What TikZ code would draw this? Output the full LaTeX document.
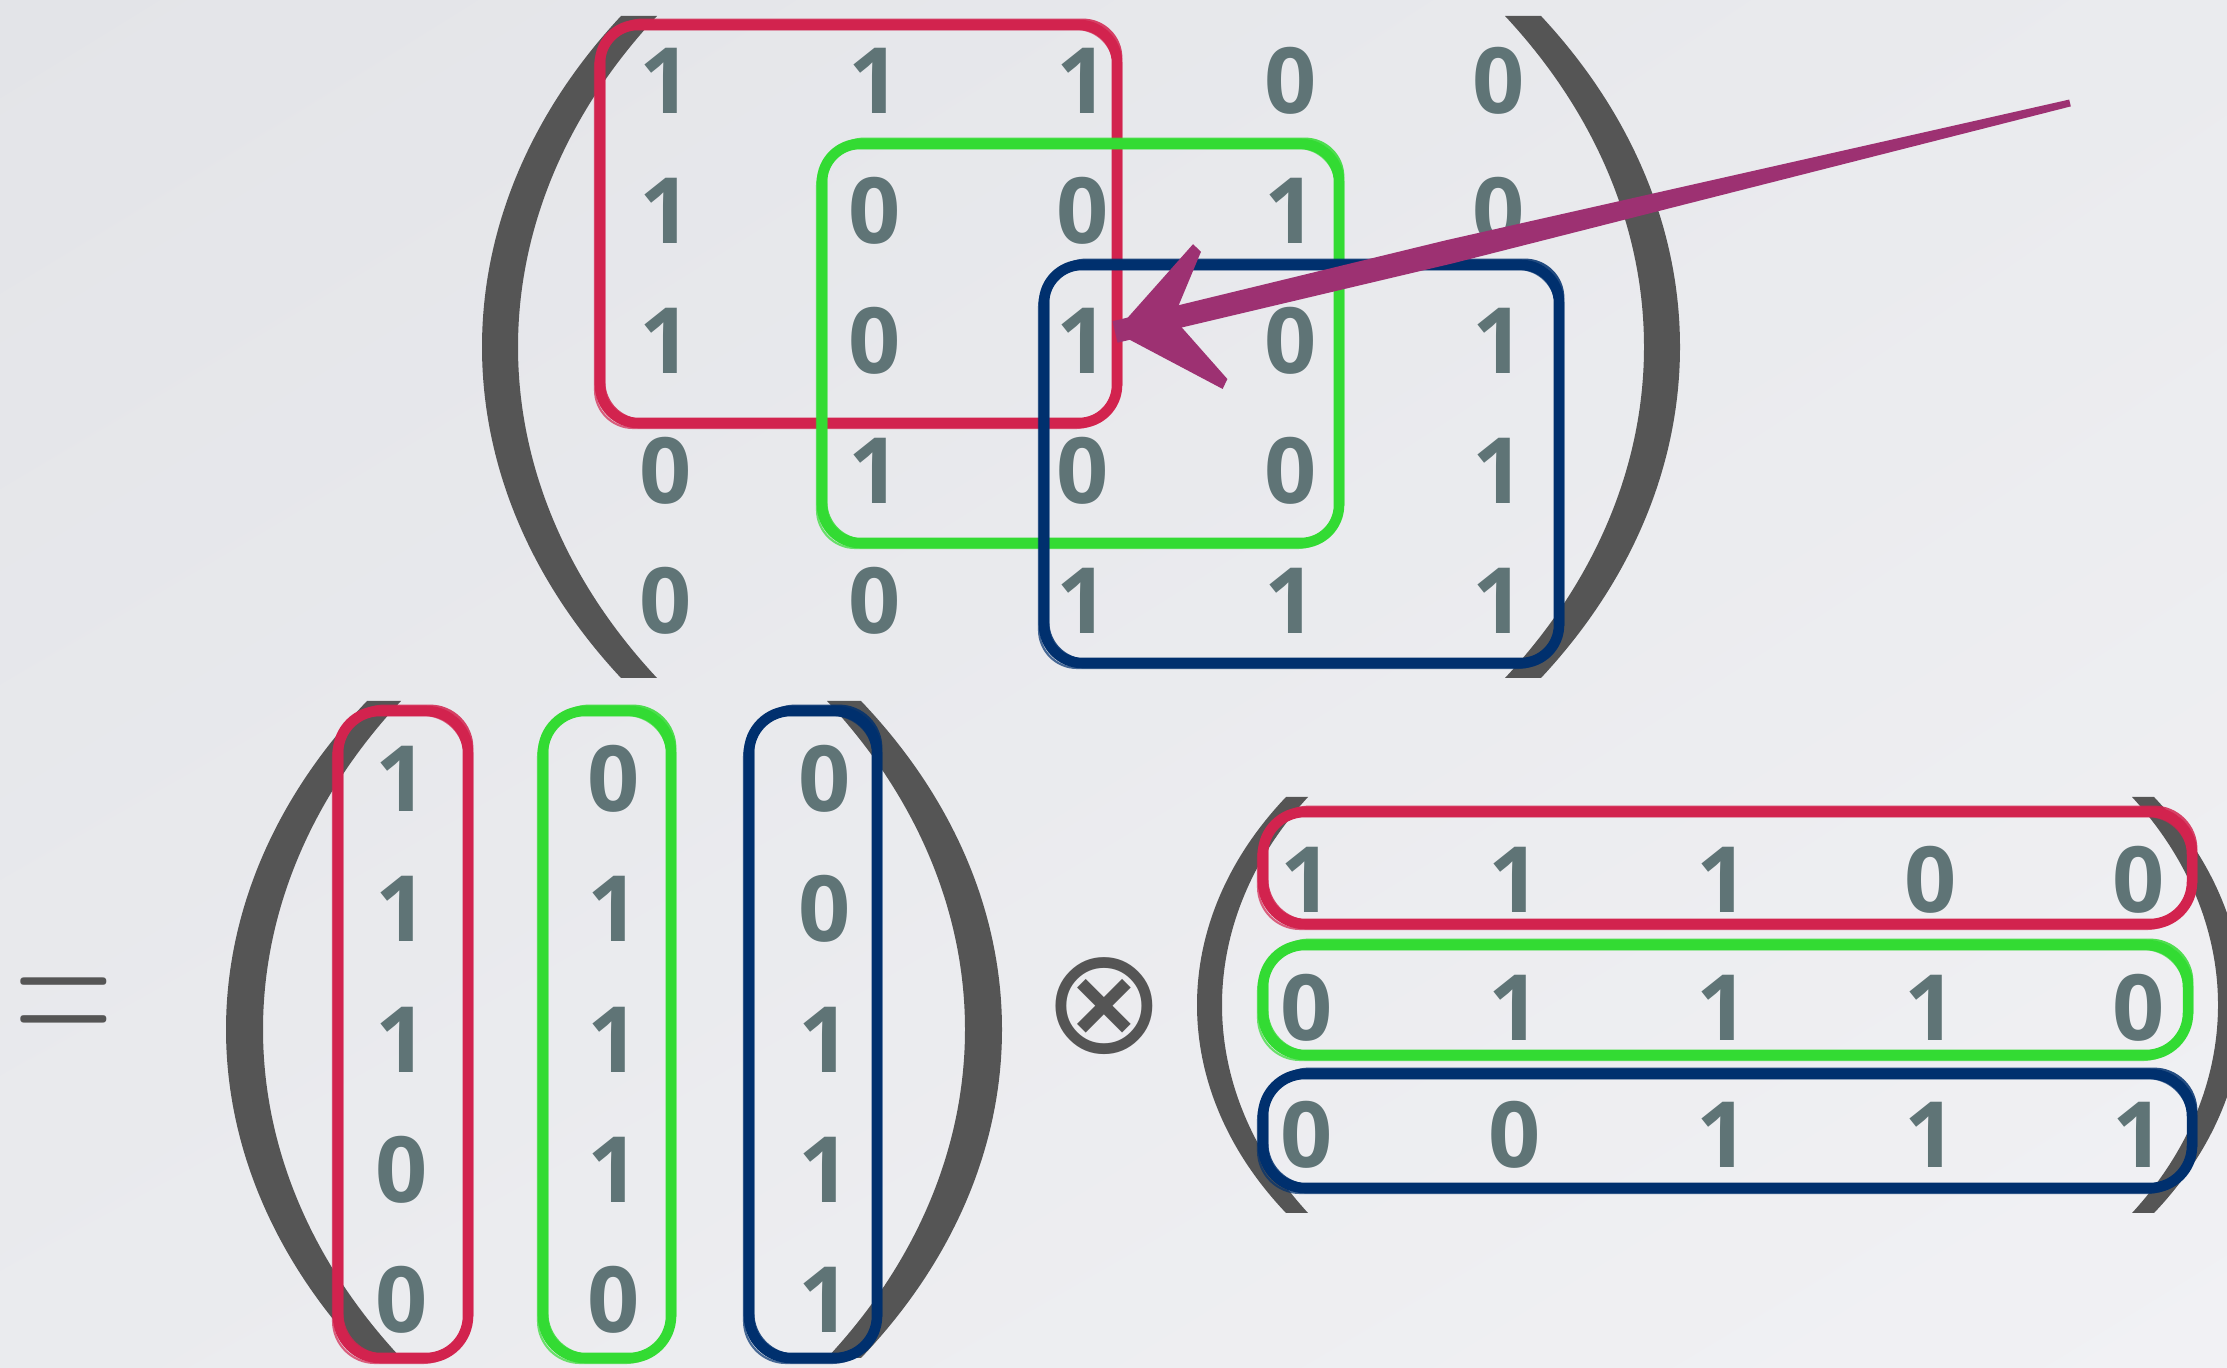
\documentclass[tikz,border=0pt]{standalone}
\usepackage{fontspec}
\newfontfamily\digitfont{Open Sans}
\newfontfamily\symfont{DejaVu Sans}
\usetikzlibrary{calc,shadings}
\definecolor{bgA}{HTML}{E3E4E8}
\definecolor{bgB}{HTML}{F1F1F4}
\definecolor{bgC}{HTML}{EAEBEE}
\definecolor{digitc}{HTML}{5F7476}
\definecolor{parenc}{HTML}{555555}
\definecolor{cred}{HTML}{D2234E}
\definecolor{cgreen}{HTML}{33DB33}
\definecolor{cblue}{HTML}{00306E}
\definecolor{carrow}{HTML}{9D3172}
% crescent-shaped parenthesis: outer top x, inner top x, outer mid x, inner mid x, top y, bottom y
\newcommand\parenshape[6]{%
  \fill[parenc] (#1,#5) .. controls ({(4*#3-#1)/3},{#5+0.3*(#6-#5)}) and ({(4*#3-#1)/3},{#6-0.3*(#6-#5)}) .. (#1,#6)
    -- (#2,#6) .. controls ({(4*#4-#2)/3},{#6-0.3*(#6-#5)}) and ({(4*#4-#2)/3},{#5+0.3*(#6-#5)}) .. (#2,#5) -- cycle;}
% sketchy rounded box: colour, x1, y1, x2, y2, radius
\newcommand\brushrect[6]{%
  \draw[draw=#1, line width=3pt, rounded corners=#6] (#2,#3) rectangle (#4,#5);
  \draw[draw=#1, line width=0.8pt, rounded corners=#6, opacity=0.85] ({#2+4},{#3-5}) rectangle ({#4+4},{#5-3});
  \draw[draw=#1, line width=0.6pt, rounded corners=#6, opacity=0.7] ({#2-5},{#3+4}) rectangle ({#4-3},{#5+5});}
\begin{document}
\begin{tikzpicture}[x=0.01cm,y=-0.01cm,
  entry/.style={font=\digitfont\bfseries\fontsize{26}{26}\selectfont, text=digitc, inner sep=0pt},
  opsym/.style={text=parenc, inner sep=0pt}]
\useasboundingbox (0,0) rectangle (2227,1368);
\clip (0,0) rectangle (2227,1368);
\shade[upper left=bgA, upper right=bgC, lower left=bgC, lower right=bgB] (0,0) rectangle (2227,1368);

% parentheses
\parenshape{621}{657}{482}{518}{16}{678}
\parenshape{1541}{1505}{1680}{1644}{16}{678}
\parenshape{367}{401}{226}{263}{701}{1358}
\parenshape{861}{827}{1002}{965}{701}{1358}
\parenshape{1286}{1308}{1197}{1222}{797}{1213}
\parenshape{2154}{2132}{2243}{2218}{797}{1213}

% top matrix 5x5
\foreach \r/\vals in {1/{1,1,1,0,0},2/{1,0,0,1,0},3/{1,0,1,0,1},4/{0,1,0,0,1},5/{0,0,1,1,1}}{
  \foreach \v [count=\c] in \vals {
    \node[entry] (t\r\c) at ({666+(\c-1)*208.2},{80.5+(\r-1)*130}) {\v};
  }
}
% bottom-left matrix 5x3
\foreach \r/\vals in {1/{1,0,0},2/{1,1,0},3/{1,1,1},4/{0,1,1},5/{0,0,1}}{
  \foreach \v [count=\c] in \vals {
    \node[entry] (l\r\c) at ({402+(\c-1)*211.5},{779+(\r-1)*130.2}) {\v};
  }
}
% bottom-right matrix 3x5
\foreach \r/\vals in {1/{1,1,1,0,0},2/{0,1,1,1,0},3/{0,0,1,1,1}}{
  \foreach \v [count=\c] in \vals {
    \node[entry] (r\r\c) at ({1307+(\c-1)*208},{880+(\r-1)*127.5}) {\v};
  }
}

% operators
\node[opsym, anchor=base, font=\fontsize{39}{39}\selectfont] (eq) at (64,1054) {\scalebox{1}[1.55]{=}};
\node[opsym, font=\symfont\fontsize{42}{42}\selectfont] (otimes) at (1104,1006) {⊗};

% coloured boxes, top matrix
\brushrect{cred}{600}{25}{1117}{423}{0.38cm}
\brushrect{cgreen}{822}{144}{1339}{543}{0.38cm}
\brushrect{cblue}{1044}{265}{1559}{663}{0.38cm}
% coloured boxes, columns
\brushrect{cred}{338}{711}{468}{1358}{0.42cm}
\brushrect{cgreen}{543}{711}{671}{1358}{0.42cm}
\brushrect{cblue}{749}{711}{877}{1358}{0.42cm}
% coloured boxes, rows
\brushrect{cred}{1263}{812}{2192}{924}{0.42cm}
\brushrect{cgreen}{1263}{945}{2188}{1055}{0.42cm}
\brushrect{cblue}{1263}{1074}{2192}{1188}{0.42cm}

% hand-drawn arrow
\coordinate (arrowtail) at (2070,103);
\coordinate (arrowtip) at (1115,332);
\coordinate (barbup) at (1197,248);
\coordinate (barbdown) at (1225,384);
\coordinate (arrowmid) at ($(arrowtip)!0.35!(arrowtail)$);
\coordinate (arrownotch) at ($(arrowtip)!0.6cm!(arrowtail)$);
% shaft
\fill[carrow] ($(arrowtail)!0.035cm!90:(arrowtip)$) -- ($(arrowmid)!0.12cm!90:(arrowtip)$)
  -- ($(arrowtip)!0.11cm!-90:(arrowtail)$) -- ($(arrowtip)!0.11cm!90:(arrowtail)$)
  -- ($(arrowmid)!0.12cm!-90:(arrowtip)$) -- ($(arrowtail)!0.035cm!-90:(arrowtip)$) -- cycle;
% head
\fill[carrow] (arrowtip) -- ($(barbup)!0.055cm!-90:(arrowtip)$) -- ($(barbup)!0.055cm!90:(arrowtip)$)
  -- (arrownotch) -- ($(barbdown)!0.055cm!-90:(arrowtip)$) -- ($(barbdown)!0.055cm!90:(arrowtip)$) -- cycle;
\end{tikzpicture}
\end{document}
